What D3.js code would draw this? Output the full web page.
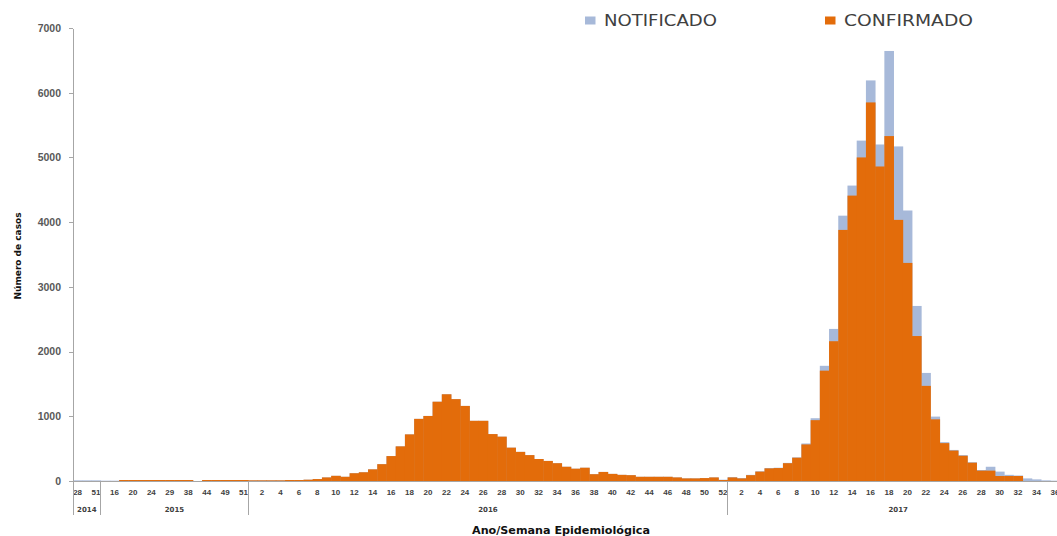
<!DOCTYPE html>
<meta charset="utf-8">
<style>

body {
  margin: 0;
  background: #fff;
}

svg {
  display: block;
  font-family: "DejaVu Sans", sans-serif;
}

.notificado { fill: #a7b9d9; }
.confirmado { fill: #e36c0a; }

.axis path,
.axis line,
.divider {
  stroke: #a6a6a6;
  shape-rendering: crispEdges;
}

.y.axis text {
  fill: #595959;
  font-size: 10.5px;
  font-weight: bold;
}

.x.axis text {
  fill: #404040;
  font-size: 8px;
  font-weight: bold;
}

.year {
  fill: #404040;
  font-size: 7px;
  font-weight: bold;
  text-anchor: middle;
}

.title {
  fill: #111;
  font-weight: bold;
  text-anchor: middle;
}

.legend text {
  fill: #404040;
  font-size: 15px;
}

</style>
<svg width="1057" height="536"></svg>
<script src="https://cdn.jsdelivr.net/npm/d3@7"></script>
<script>

// epidemiological weeks shown for each year
var years = ["2014", "2015", "2016", "2017"];

var weeks2014 = [28, 42, 51];
var weeks2015 = [10, 16, 18, 20, 22, 24, 26, 29, 33, 38, 41, 44, 46, 49, 50, 51];
var weeks2016 = d3.range(1, 53);
var weeks2017 = d3.range(1, 38);

// confirmed cases per week
var conf2014 = [0, 0, 0];
var conf2015 = [0, 0, 15, 15, 15, 15, 15, 15, 15, 15, 0, 15, 15, 15, 15, 15];
var conf2016 = [10, 10, 10, 10, 15, 15, 20, 30, 55, 80,
  65, 120, 135, 180, 260, 385, 535, 720, 960, 1005,
  1225, 1340, 1265, 1160, 930, 930, 725, 685, 515, 450,
  400, 340, 310, 275, 220, 190, 205, 105, 140, 110,
  95, 90, 65, 65, 65, 65, 55, 40, 40, 45,
  55, 15];
var conf2017 = [55, 40, 90, 145, 195, 200, 275, 360, 565, 940,
  1705, 2160, 3880, 4410, 5000, 5850, 4860, 5330, 4035, 3370,
  2240, 1470, 953, 585, 470, 390, 283, 160, 160, 77,
  77, 77, 0, 0, 0, 0, 0];

// notified cases per week
var notif2014 = [10, 10, 10];
var notif2015 = [5, 5, 15, 15, 15, 15, 15, 15, 15, 15, 0, 15, 15, 15, 15, 15];
var notif2016 = [10, 10, 10, 10, 15, 15, 20, 30, 55, 80,
  65, 120, 135, 180, 260, 385, 535, 720, 960, 1005,
  1225, 1340, 1265, 1160, 930, 930, 725, 685, 515, 450,
  400, 340, 310, 275, 220, 190, 205, 105, 140, 110,
  95, 90, 65, 65, 65, 65, 55, 40, 40, 45,
  55, 20];
var notif2017 = [60, 45, 95, 150, 200, 205, 280, 365, 580, 970,
  1780, 2350, 4100, 4565, 5260, 6190, 5200, 6645, 5170, 4180,
  2705, 1670, 995, 600, 480, 400, 290, 170, 220, 145,
  95, 85, 40, 25, 10, 5, 3];

var yTicks = [0, 1000, 2000, 3000, 4000, 5000, 6000, 7000];

var weeksByYear = [weeks2014, weeks2015, weeks2016, weeks2017],
    confByYear = [conf2014, conf2015, conf2016, conf2017],
    notifByYear = [notif2014, notif2015, notif2016, notif2017];

var data = [], spans = [];
years.forEach(function(year, k) {
  var start = data.length;
  weeksByYear[k].forEach(function(w, j) {
    data.push({i: data.length, year: year, week: w, conf: confByYear[k][j], notif: notifByYear[k][j]});
  });
  spans.push({year: year, start: start, end: data.length});
});

var svg = d3.select("svg");

var plotLeft = 73, plotBottom = 481, plotTop = 28, step = 9.22;

var x = d3.scaleBand()
    .domain(d3.range(data.length))
    .range([plotLeft, plotLeft + step * data.length])
    .padding(0);

var y = d3.scaleLinear()
    .domain([0, 7000])
    .range([plotBottom, plotTop]);

svg.append("g")
    .selectAll("rect")
    .data(data)
  .enter().append("rect")
    .attr("class", "notificado")
    .attr("x", function(d) { return x(d.i); })
    .attr("width", x.bandwidth() + 0.4)
    .attr("y", function(d) { return y(d.notif); })
    .attr("height", function(d) { return plotBottom - y(d.notif); });

svg.append("g")
    .selectAll("rect")
    .data(data)
  .enter().append("rect")
    .attr("class", "confirmado")
    .attr("x", function(d) { return x(d.i); })
    .attr("width", x.bandwidth() + 0.4)
    .attr("y", function(d) { return y(d.conf); })
    .attr("height", function(d) { return plotBottom - y(d.conf); });

svg.append("g")
    .attr("class", "y axis")
    .attr("transform", "translate(" + plotLeft + ",0)")
    .call(d3.axisLeft(y).tickValues(yTicks).tickSize(4).tickSizeOuter(0).tickPadding(8).tickFormat(d3.format("d")));

svg.append("g")
    .attr("class", "x axis")
    .attr("transform", "translate(0," + plotBottom + ")")
    .call(d3.axisBottom(x)
      .tickValues(d3.range(0, data.length, 2))
      .tickSize(0)
      .tickPadding(8)
      .tickFormat(function(i) { return data[i].week; }));

svg.selectAll(".x.axis .domain").remove();

svg.append("line")
    .attr("class", "divider")
    .attr("x1", plotLeft)
    .attr("x2", 1057)
    .attr("y1", plotBottom + 0.5)
    .attr("y2", plotBottom + 0.5);

svg.selectAll(".divider-v")
    .data(spans)
  .enter().append("line")
    .attr("class", "divider")
    .attr("x1", function(d) { return x(d.start); })
    .attr("x2", function(d) { return x(d.start); })
    .attr("y1", plotBottom)
    .attr("y2", plotBottom + 34);

svg.selectAll(".year")
    .data(spans)
  .enter().append("text")
    .attr("class", "year")
    .attr("x", function(d) { return (x(d.start) + x(d.end - 1) + x.bandwidth()) / 2; })
    .attr("y", 512)
    .text(function(d) { return d.year; });

svg.append("text")
    .attr("class", "title")
    .attr("x", 561)
    .attr("y", 534)
    .attr("font-size", 10)
    .attr("textLength", 178)
    .attr("lengthAdjust", "spacingAndGlyphs")
    .text("Ano/Semana Epidemiológica");

svg.append("text")
    .attr("class", "title")
    .attr("transform", "translate(20.5,256) rotate(-90)")
    .attr("font-size", 8.5)
    .attr("textLength", 87)
    .attr("lengthAdjust", "spacingAndGlyphs")
    .text("Número de casos");

var legend = svg.append("g")
    .attr("class", "legend");

var legendItems = [
  {label: "NOTIFICADO", cls: "notificado", x: 585, len: 113},
  {label: "CONFIRMADO", cls: "confirmado", x: 825, len: 129}
];

legendItems.forEach(function(d) {
  legend.append("rect")
      .attr("class", d.cls)
      .attr("x", d.x)
      .attr("y", 16.5)
      .attr("width", 10.5)
      .attr("height", 8);
  legend.append("text")
      .attr("x", d.x + 19)
      .attr("y", 26)
      .attr("textLength", d.len)
      .attr("lengthAdjust", "spacingAndGlyphs")
      .text(d.label);
});

</script>
